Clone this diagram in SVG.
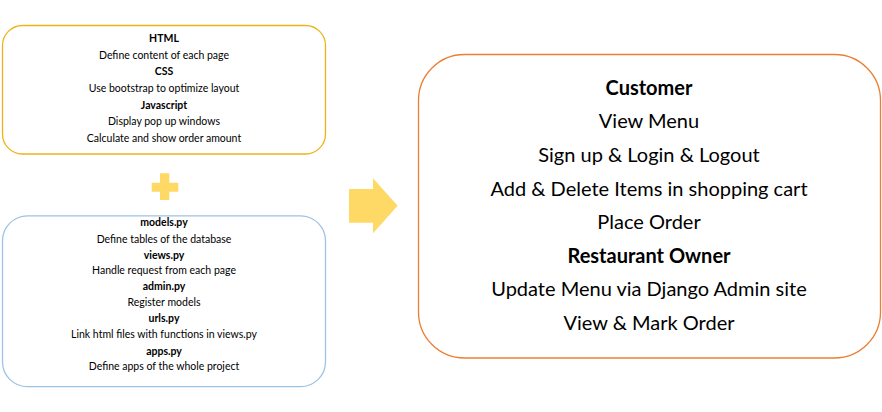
<svg xmlns="http://www.w3.org/2000/svg" width="882" height="412" viewBox="0 0 882 412">
<style>
.box{fill:#FFFFFF;stroke-width:1.3}
.s{font-family:Lato,"Liberation Sans",sans-serif;font-size:10.5px;fill:#000;text-anchor:middle}
.l{font-family:Lato,"Liberation Sans",sans-serif;font-size:20px;fill:#000;text-anchor:middle}
.b{font-weight:bold}
.sym{fill:#FFD966}
</style>
<rect width="882" height="412" fill="#FFFFFF"/>
<g id="frontend">
<rect class="box" x="2.5" y="25.5" width="323" height="128.5" rx="20" stroke="#EDB31B"/>
<text class="s b" x="164" y="41.8">HTML</text>
<text class="s" x="164" y="58.5">Define content of each page</text>
<text class="s b" x="164" y="75.2">CSS</text>
<text class="s" x="164" y="91.8">Use bootstrap to optimize layout</text>
<text class="s b" x="164" y="108.5">Javascript</text>
<text class="s" x="164" y="125.2">Display pop up windows</text>
<text class="s" x="164" y="141.8">Calculate and show order amount</text>
</g>
<g id="plus">
<path class="sym" d="M160,173.3 H169.3 V182.7 H178.3 V191.7 H169.3 V200 H160 V191.7 H151.7 V182.7 H160 Z"/>
</g>
<g id="backend">
<rect class="box" x="2.5" y="215.8" width="323" height="170.9" rx="25" stroke="#9DC3E6"/>
<text class="s b" x="164" y="225.8">models.py</text>
<text class="s" x="164" y="242.5">Define tables of the database</text>
<text class="s b" x="164" y="258.5">views.py</text>
<text class="s" x="164" y="274.2">Handle request from each page</text>
<text class="s b" x="164" y="290.2">admin.py</text>
<text class="s" x="164" y="306.2">Register models</text>
<text class="s b" x="164" y="322.2">urls.py</text>
<text class="s" x="164" y="337.8">Link html files with functions in views.py</text>
<text class="s b" x="164" y="354.5">apps.py</text>
<text class="s" x="164" y="370.2">Define apps of the whole project</text>
</g>
<g id="connectors">
<path class="sym" d="M349,189 H373 V178.3 L397.7,205.7 L373,233.3 V222.7 H349 Z"/>
</g>
<g id="features">
<rect class="box" x="418.5" y="54.5" width="462" height="303.5" rx="46" stroke="#ED7D31"/>
<text class="l b" x="649" y="94.5">Customer</text>
<text class="l" x="649" y="128.1">View Menu</text>
<text class="l" x="649" y="161.7">Sign up &amp; Login &amp; Logout</text>
<text class="l" x="649" y="195.5">Add &amp; Delete Items in shopping cart</text>
<text class="l" x="649" y="229">Place Order</text>
<text class="l b" x="649" y="262.5">Restaurant Owner</text>
<text class="l" x="649" y="296.3">Update Menu via Django Admin site</text>
<text class="l" x="649" y="329.5">View &amp; Mark Order</text>
</g>
</svg>
